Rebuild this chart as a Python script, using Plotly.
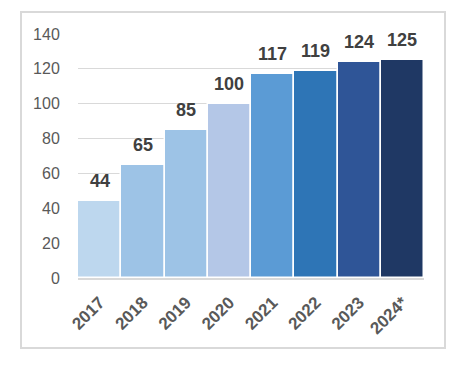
import plotly.graph_objects as go

years = ["2017", "2018", "2019", "2020", "2021", "2022", "2023", "2024*"]
values = [44, 65, 85, 100, 117, 119, 124, 125]
colors = ["#BDD7EE", "#9DC3E6", "#9DC3E6", "#B4C7E7", "#5B9BD5", "#2E75B6", "#2F5597", "#1F3864"]
y_ticks = [0, 20, 40, 60, 80, 100, 120, 140]

positions = list(range(len(years)))

fig = go.Figure()
fig.add_trace(go.Bar(
    x=positions, y=values,
    marker_color=colors,
    marker_line_color="white", marker_line_width=1.5,
    hoverinfo="skip",
))

for p, v in zip(positions, values):
    fig.add_annotation(x=p, y=v, text="<b>%d</b>" % v, showarrow=False,
                       xanchor="center", yanchor="bottom", yshift=8,
                       font=dict(family="Liberation Sans, Arial", size=18, color="#404040"))

# page has an 8px body margin, so figure coords = screen coords - 8
W, H = 456, 356
L, R, T, B = 70, 40, 26, 86
pw, ph = W - L - R, H - T - B
def px(x): return (x - L) / pw
def py(y): return (H - B - y) / ph

fig.add_shape(type="rect", xref="paper", yref="paper",
              x0=px(13), x1=px(437), y0=py(340), y1=py(4),
              line=dict(color="#D9D9D9", width=2), layer="below")

fig.update_layout(
    width=W, height=H,
    margin=dict(l=L, r=R, t=T, b=B, autoexpand=False),
    paper_bgcolor="white", plot_bgcolor="white",
    bargap=0, showlegend=False,
    xaxis=dict(range=[-0.5, 7.5], tickmode="array", tickvals=positions,
               ticktext=["<b>%s</b>" % y for y in years],
               tickangle=-45, showgrid=False, showline=True, zeroline=False,
               linecolor="#D9D9D9", linewidth=2,
               ticks="outside", ticklen=6, tickcolor="rgba(0,0,0,0)",
               tickfont=dict(family="Liberation Sans, Arial", size=17, color="#595959")),
    yaxis=dict(range=[0, 140], tickmode="array", tickvals=y_ticks,
               showgrid=True, gridcolor="#D9D9D9", gridwidth=1,
               zeroline=False, showline=False,
               ticks="outside", ticklen=14, tickcolor="rgba(0,0,0,0)",
               tickfont=dict(family="Liberation Sans, Arial", size=16, color="#595959")),
)

fig.write_html("out.html")
